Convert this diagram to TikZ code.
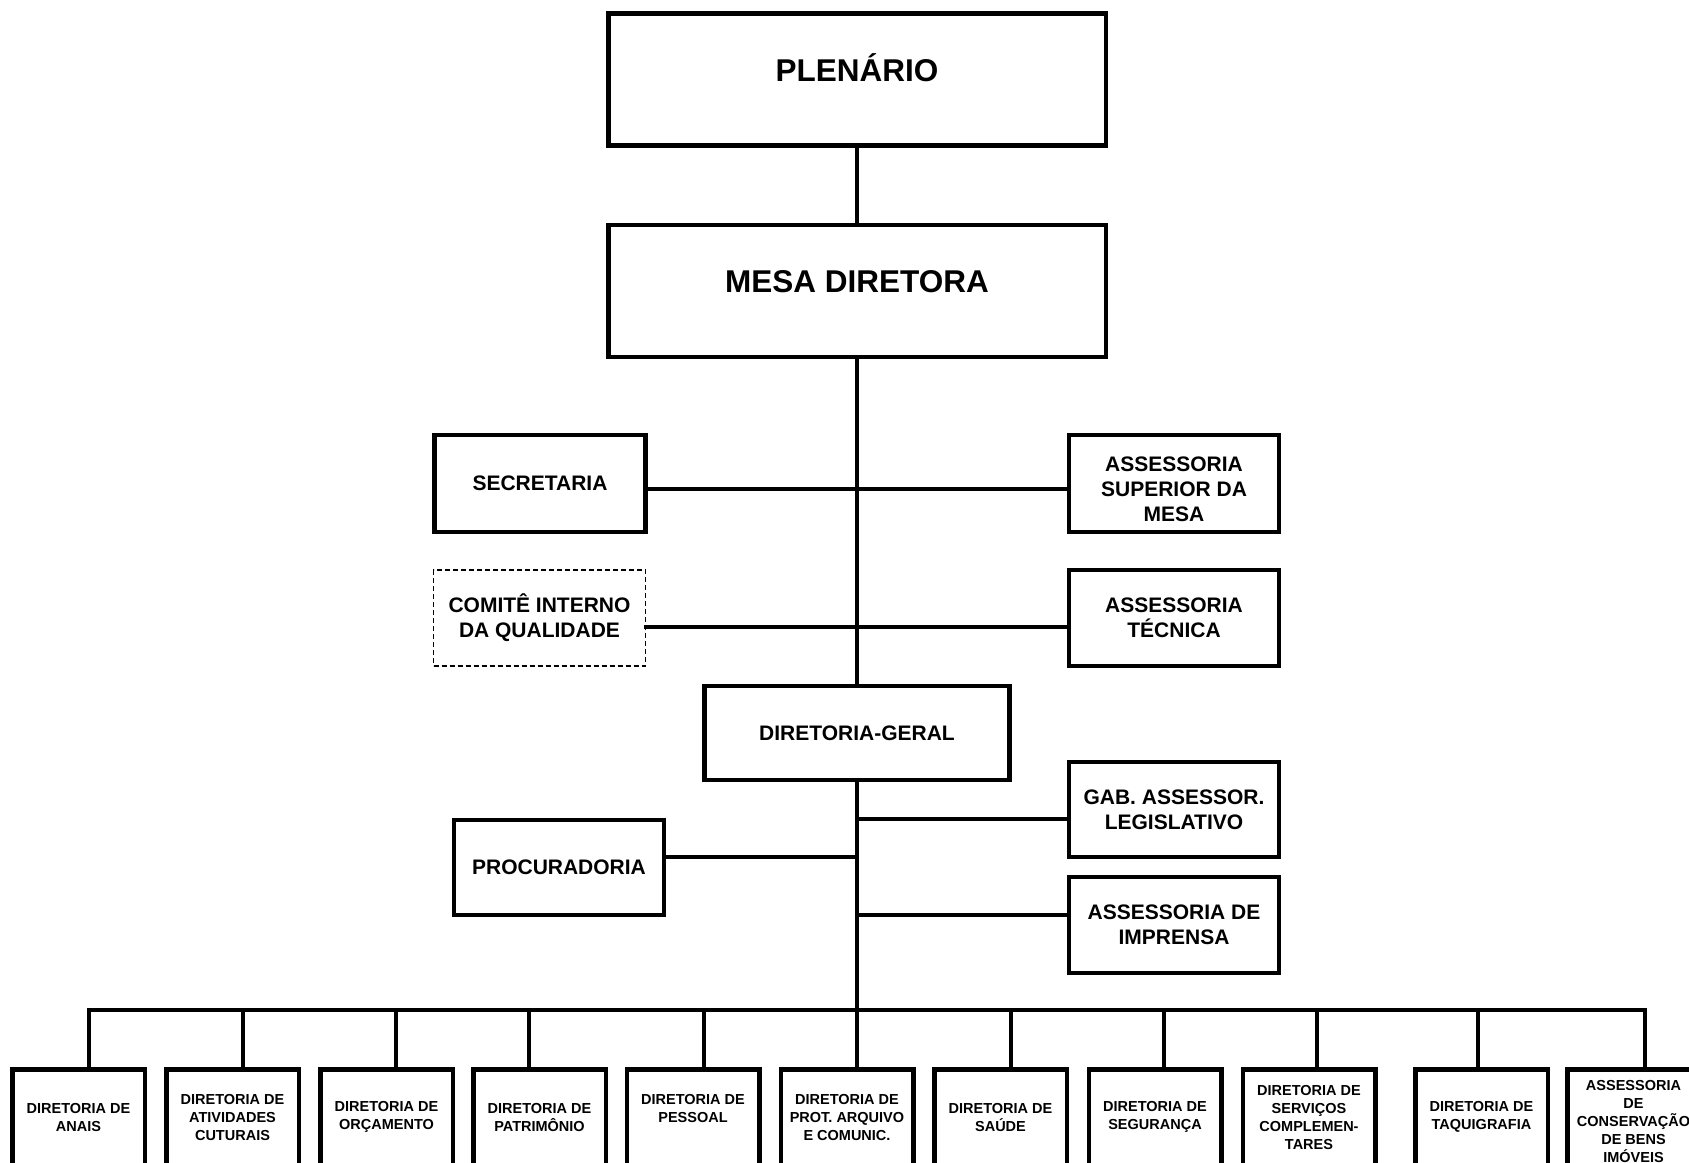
\documentclass[tikz,border=0pt]{standalone}
\usepackage{fontspec}
\setmainfont{Liberation Sans}
\begin{document}
\begin{tikzpicture}[x=1pt,y=-1pt,
  box/.style={draw, line width=4.5pt, inner sep=0pt, align=center},
  bigbox/.style={box, minimum width=497.5pt, minimum height=132pt,
     font=\fontsize{31.5}{38}\selectfont\bfseries, text height=23pt, text depth=20pt},
  midbox/.style={box, minimum width=210pt, minimum height=96pt,
     font=\fontsize{21}{25}\selectfont\bfseries},
  lowbox/.style={box, anchor=north, minimum width=132.5pt, minimum height=96pt,
     font=\fontsize{14.5}{18}\selectfont\bfseries},
  dashbox/.style={midbox, line width=1.5pt, dash pattern=on 5pt off 3pt},
  conn/.style={line width=4pt, line cap=rect}
]
\useasboundingbox (0,0) rectangle (1689,1162);

% top boxes
\node[bigbox] (plen) at (857,79.5) {PLENÁRIO};
\node[bigbox] (mesa) at (857,291) {MESA DIRETORA};

% middle boxes
\node[midbox, minimum width=211pt, minimum height=97pt] (sec) at (540,483.5) {SECRETARIA};
\node[midbox, minimum height=97pt, text height=75pt, text depth=0pt] (ass1) at (1174,483.5) {ASSESSORIA\\SUPERIOR DA\\MESA};
\node[dashbox, minimum width=212pt] (com) at (539.5,618) {COMITÊ INTERNO\\DA QUALIDADE};
\node[midbox] (ass2) at (1174,618) {ASSESSORIA\\TÉCNICA};
\node[midbox, minimum width=305pt, minimum height=94pt] (dg) at (857,733) {DIRETORIA-GERAL};
\node[midbox, minimum height=95pt] (gab) at (1174,809.5) {GAB. ASSESSOR.\\LEGISLATIVO};
\node[midbox, minimum height=95pt] (proc) at (559,867.5) {PROCURADORIA};
\node[midbox] (imp) at (1174,925) {ASSESSORIA DE\\IMPRENSA};

% bottom boxes
\node[lowbox] (d1) at (78.5,1067) {DIRETORIA DE\\ANAIS};
\node[lowbox] (d2) at (232.5,1067) {DIRETORIA DE\\ATIVIDADES\\CUTURAIS};
\node[lowbox] (d3) at (386.5,1067) {DIRETORIA DE\\ORÇAMENTO};
\node[lowbox] (d4) at (539.5,1067) {DIRETORIA DE\\PATRIMÔNIO};
\node[lowbox] (d5) at (693,1067) {DIRETORIA DE\\PESSOAL\\\mbox{}};
\node[lowbox] (d6) at (847,1067) {DIRETORIA DE\\PROT. ARQUIVO\\E COMUNIC.};
\node[lowbox] (d7) at (1000.5,1067) {DIRETORIA DE\\SAÚDE};
\node[lowbox] (d8) at (1155,1067) {DIRETORIA DE\\SEGURANÇA};
\node[lowbox] (d9) at (1309,1067) {DIRETORIA DE\\SERVIÇOS\\COMPLEMEN-\\TARES};
\node[lowbox] (d10) at (1481.5,1067) {DIRETORIA DE\\TAQUIGRAFIA};
\node[lowbox, minimum height=105pt] (d11) at (1633.5,1067) {ASSESSORIA\\DE\\CONSERVAÇÃO\\DE BENS\\IMÓVEIS};

% trunk
\draw[conn] (plen.south) -- (mesa.north);
\draw[conn] (mesa.south) -- (dg.north);
\coordinate (bc) at (857,1010);
\draw[conn] (dg.south) -- (bc);

% side branches
\draw[conn] ([yshift=-5pt]sec.east) -- ([yshift=-5pt]ass1.west);
\draw[conn] ([yshift=-8.5pt]com.east) -- ([yshift=-8.5pt]ass2.west);
\coordinate (gj) at ([yshift=-9.5pt]gab.west);
\draw[conn] (gj) -- (gj -| dg.south);
\coordinate (pj) at ([yshift=10.5pt]proc.east);
\draw[conn] (pj) -- (pj -| dg.south);
\coordinate (ij) at ([yshift=10pt]imp.west);
\draw[conn] (ij) -- (ij -| dg.south);

% bus
\coordinate (busL) at (89,1010);
\coordinate (busR) at (1645,1010);
\draw[conn] (busL) -- (busR);
\foreach \i/\x in {1/89,2/243,3/396,4/529,5/704,6/857,7/1011,8/1164,9/1317,10/1478,11/1645}{
  \coordinate (t\i) at (\x,1010);
  \draw[conn] (t\i) -- (t\i |- d\i.north);
}
\end{tikzpicture}
\end{document}
